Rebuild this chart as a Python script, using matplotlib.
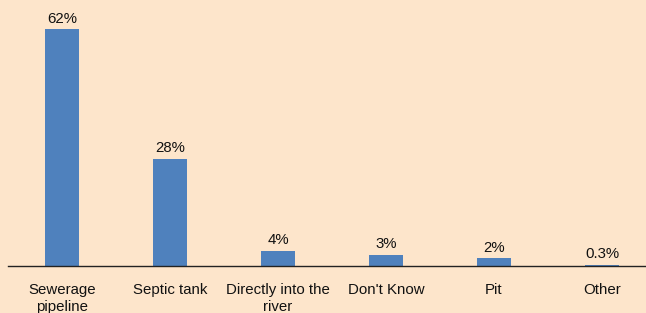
import matplotlib
matplotlib.use("Agg")
import matplotlib.pyplot as plt

categories = ["Sewerage\npipeline", "Septic tank", "Directly into the\nriver", "Don't Know", "Pit", "Other"]
values = [62, 28, 4, 3, 2, 0.3]
labels = ["62%", "28%", "4%", "3%", "2%", "0.3%"]

bg = "#FDE5CB"
plt.rcParams['font.family'] = ['Liberation Sans', 'DejaVu Sans']

fig = plt.figure(figsize=(6.46, 3.13), dpi=100, facecolor=bg)
ax = fig.add_axes([8/646, 47/313, 648/646, 266/313])
ax.set_facecolor(bg)
x = list(range(len(categories)))
ax.bar(x, values, width=34/108, color="#4F81BD")
for xi, v, lab in zip(x, values, labels):
    ax.annotate(lab, (xi, v), xytext=(0, 2.5), textcoords="offset points",
                ha="center", va="bottom", fontsize=10.8, color="#111111")
ax.set_xlim(-0.5, 5.5)
ax.set_ylim(0, 62*266/237)
ax.set_xticks(x)
ax.set_xticklabels(categories, fontsize=10.8, color="#111111", linespacing=1.25)
ax.tick_params(axis="x", length=0, pad=12.5)
ax.set_yticks([])
for s in ["top", "right", "left"]:
    ax.spines[s].set_visible(False)
ax.spines["bottom"].set_color("#222222")
ax.spines["bottom"].set_linewidth(1)
fig.savefig("out.png", dpi=100, facecolor=bg)
